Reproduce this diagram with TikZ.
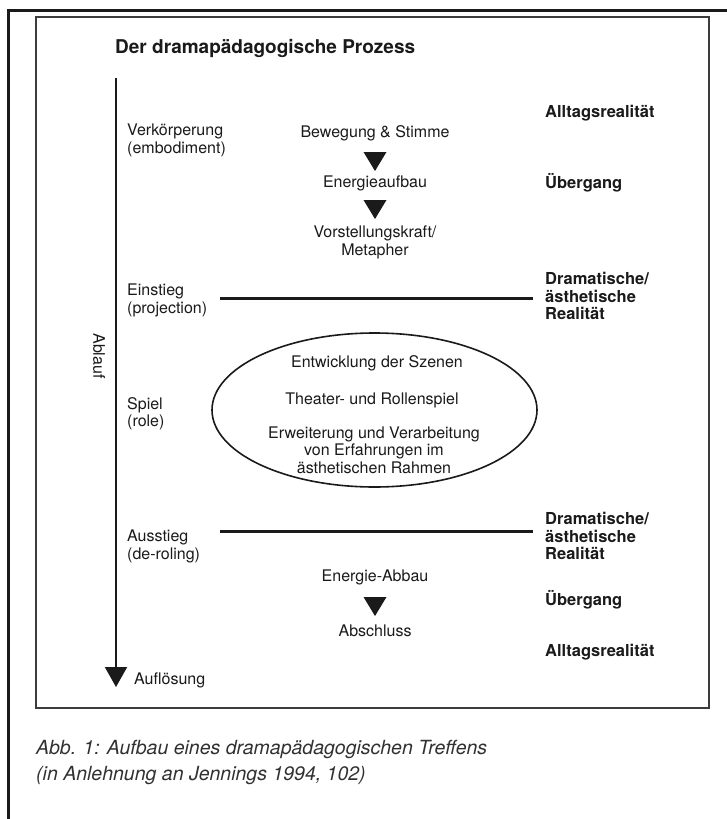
\documentclass[tikz,border=0pt]{standalone}
\usepackage{fontspec}
\setmainfont{TeX Gyre Heros}
\usetikzlibrary{arrows.meta,shapes.geometric}
\definecolor{ink}{HTML}{1A1A1A}
\begin{document}
\begin{tikzpicture}[x=1pt,y=-1pt,
  reg/.style={font=\fontsize{16}{17.5}\selectfont, inner sep=0pt, text=ink},
  lft/.style={reg, align=left, anchor=west},
  ctr/.style={reg, align=center},
  bld/.style={font=\fontsize{16.5}{17.5}\selectfont\bfseries, inner sep=0pt, text=ink, align=left, anchor=west},
  capt/.style={font=\fontsize{19.5}{26}\selectfont\itshape, inner sep=0pt, text=ink!90, anchor=west},
  bar/.style={line width=3pt, draw=ink},
  boxframe/.style={line width=1.2pt, draw=ink!85},
  downtri/.pic={\fill[ink] (-11.5,0) -- (11.5,0) -- (0,19) -- cycle;}]
\useasboundingbox (0,0) rectangle (727,819);
\fill[white] (0,0) rectangle (727,819);
% outer page frame
\draw[line width=3pt, ink] (8.5,819) -- (8.5,10) -- (727,10);
% inner box
\draw[boxframe] (36,17) rectangle (709,708);
% title
\node[anchor=west, font=\fontsize{19}{22}\selectfont\bfseries, inner sep=0pt, text=ink] (title) at (115,48) {Der dramapädagogische Prozess};
% flow arrow
\coordinate (flowtop) at (116,78);
\coordinate (flowend) at (116,687);
\draw[line width=2pt, ink, -{Triangle[length=20pt,width=22pt]}] (flowtop) -- (flowend);
\node[reg, rotate=-90] (ablauf) at (99,356) {Ablauf};
% left labels
\node[lft] (verk) at (127,140.5) {Verkörperung\\(embodiment)};
\node[lft] (einst) at (127,300.5) {Einstieg\\(projection)};
\node[lft] (spiel) at (127,413.5) {Spiel\\(role)};
\node[lft] (ausst) at (127,546.5) {Ausstieg\\(de-roling)};
\node[lft] (aufl) at (134,680) {Auflösung};
% center column
\node[ctr] (bs) at (375,133) {Bewegung \& Stimme};
\pic (tri1) at (375,152) {downtri};
\node[ctr] (ea) at (375,183) {Energieaufbau};
\pic (tri2) at (375,200) {downtri};
\node[ctr] (vk) at (375,242.5) {Vorstellungskraft/\\Metapher};
% first bar
\coordinate (bar1a) at (220,298);
\coordinate (bar1b) at (533,298);
\draw[bar] (bar1a) -- (bar1b);
% ellipse
\node[draw=ink, line width=1.6pt, ellipse, minimum width=325pt, minimum height=154pt, inner sep=0pt] (scene) at (374.5,410) {};
\node[ctr] (entw) at (377,363) {Entwicklung der Szenen};
\node[ctr] (theat) at (372,400) {Theater- und Rollenspiel};
\node[ctr] (erw) at (374,450) {Erweiterung und Verarbeitung\\von Erfahrungen im\\ästhetischen Rahmen};
% second bar
\coordinate (bar2a) at (220,531);
\coordinate (bar2b) at (533,531);
\draw[bar] (bar2a) -- (bar2b);
\node[ctr] (eab) at (375,577) {Energie-Abbau};
\pic (tri3) at (375,597) {downtri};
\node[ctr] (absch) at (375,631) {Abschluss};
% right labels
\node[bld] (all1) at (545,113) {Alltagsrealität};
\node[bld] (ueb1) at (545,183) {Übergang};
\node[bld] (dram1) at (545,296) {Dramatische/\\ästhetische\\Realität};
\node[bld] (dram2) at (545,536) {Dramatische/\\ästhetische\\Realität};
\node[bld] (ueb2) at (545,600) {Übergang};
\node[bld] (all2) at (545,652) {Alltagsrealität};
% caption
\node[capt] (cap1) at (36,749) {Abb. 1: Aufbau eines dramapädagogischen Treffens};
\node[capt] (cap2) at (36,776) {(in Anlehnung an Jennings 1994, 102)};
\end{tikzpicture}
\end{document}
